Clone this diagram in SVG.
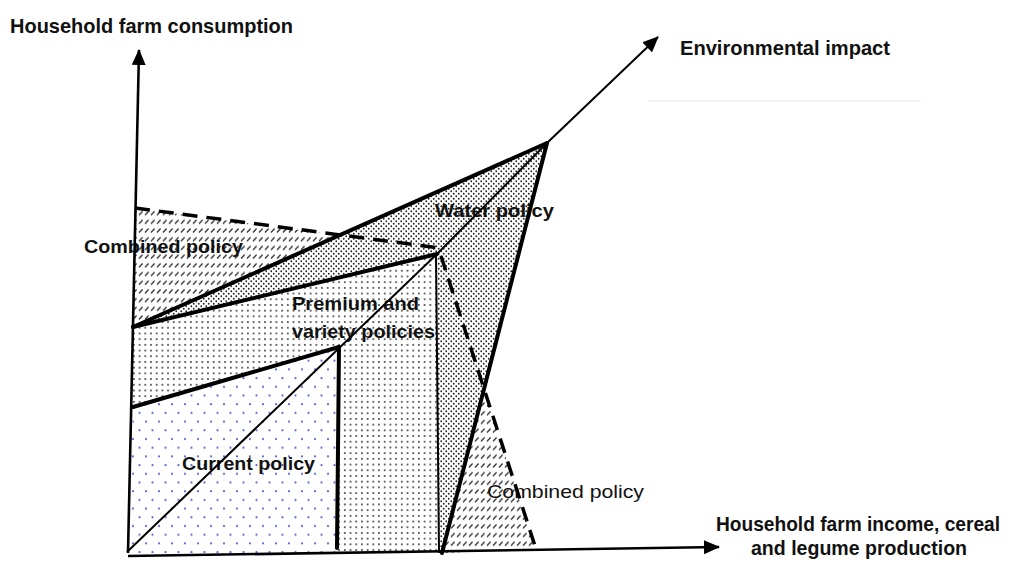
<svg xmlns="http://www.w3.org/2000/svg" width="1014" height="562" viewBox="0 0 1014 562">
<style>
  .lbl { font-family: "Liberation Sans", Arial, sans-serif; fill: #111; }
  .ax { font-size: 21px; font-weight: bold; }
  .rg { font-size: 19px; font-weight: bold; }
  .rgn { font-size: 19px; font-weight: normal; }
  .thick { stroke: #000; stroke-width: 4; fill: none; stroke-linecap: round; }
  .thin { stroke: #000; stroke-width: 2; fill: none; }
  .axis { stroke: #000; stroke-width: 2.6; fill: none; }
  .dash { stroke: #000; stroke-width: 3.5; fill: none; stroke-dasharray: 15 9; }
</style>
<defs>
  <pattern id="bluedots" width="13" height="17.4" patternUnits="userSpaceOnUse">
    <circle cx="3" cy="4" r="1.1" fill="#5466d8"/>
    <circle cx="9.5" cy="12.7" r="1.1" fill="#5466d8"/>
  </pattern>
  <pattern id="finedots" width="5.7" height="5.7" patternUnits="userSpaceOnUse">
    <circle cx="2.8" cy="2.8" r="0.95" fill="#333"/>
  </pattern>
  <pattern id="densedots" width="5" height="5" patternUnits="userSpaceOnUse">
    <circle cx="1.25" cy="1.25" r="0.9" fill="#222"/>
    <circle cx="3.75" cy="3.75" r="0.9" fill="#222"/>
  </pattern>
  <pattern id="hatch" width="6" height="8.7" patternUnits="userSpaceOnUse">
    <line x1="1" y1="6.2" x2="4.6" y2="2.4" stroke="#333" stroke-width="1.4"/>
  </pattern>
  <marker id="arr" viewBox="0 0 16 14" refX="15" refY="7" markerWidth="16" markerHeight="14" markerUnits="userSpaceOnUse" orient="auto">
    <path d="M0,0 L16,7 L0,14 Z" fill="#000"/>
  </marker>
</defs>
<rect width="1014" height="562" fill="#fff"/>
<line x1="648" y1="101" x2="921" y2="101" stroke="#f0f0f0" stroke-width="1.5"/>

<g id="region-current-policy">
  <polygon points="133,407 339,347 337,553 128,553" fill="url(#bluedots)"/>
  <text class="lbl rg" x="182" y="470" textLength="133" lengthAdjust="spacingAndGlyphs">Current policy</text>
</g>
<g id="region-premium-variety">
  <polygon points="133,327 437,254 439,553 337,553 339,347 133,407" fill="url(#finedots)"/>
  <text class="lbl rg" x="292" y="310" textLength="127" lengthAdjust="spacingAndGlyphs">Premium and</text>
  <text class="lbl rg" x="292" y="338" textLength="143" lengthAdjust="spacingAndGlyphs">variety policies</text>
</g>
<g id="region-water-policy">
  <polygon points="133,327 547,143 442,553 439,553 437,254" fill="url(#densedots)"/>
  <text class="lbl rg" x="435" y="217" textLength="119" lengthAdjust="spacingAndGlyphs">Water policy</text>
</g>
<g id="region-combined-upper">
  <polygon points="134,208 338,235 133,327" fill="url(#hatch)"/>
  <text class="lbl rg" x="84" y="253" textLength="159" lengthAdjust="spacingAndGlyphs">Combined policy</text>
</g>
<g id="region-combined-lower">
  <polygon points="484,389 535,549 442,553" fill="url(#hatch)"/>
  <text class="lbl rgn" x="487" y="498" textLength="157" lengthAdjust="spacingAndGlyphs">Combined policy</text>
</g>

<g id="connectors">
  <line class="thick" x1="133" y1="327" x2="547" y2="143"/>
  <line class="thick" x1="133" y1="327" x2="437" y2="254"/>
  <line class="thick" x1="133" y1="407" x2="339" y2="347"/>
  <line class="thick" x1="339" y1="347" x2="337" y2="548"/>
  <line class="thick" x1="547" y1="143" x2="442" y2="553"/>
  <line class="thin" x1="436" y1="254" x2="439" y2="553" stroke-width="1.6"/>
  <polyline class="dash" points="135,208 440,248"/>
  <polyline class="dash" points="441,256 535,546"/>
  <line class="axis" x1="128" y1="553" x2="139" y2="50" marker-end="url(#arr)"/>
  <line class="axis" x1="128" y1="556" x2="719" y2="547" marker-end="url(#arr)"/>
  <polyline class="thin" points="127,552 437,254 547,143 658,37" stroke-width="2.3" marker-end="url(#arr)"/>
</g>

<g id="axis-labels">
  <text class="lbl ax" x="10" y="33" textLength="283" lengthAdjust="spacingAndGlyphs">Household farm consumption</text>
  <text class="lbl ax" x="680" y="55" textLength="210" lengthAdjust="spacingAndGlyphs">Environmental impact</text>
  <text class="lbl ax" x="716" y="531" font-size="18.5" textLength="284" lengthAdjust="spacingAndGlyphs">Household farm income, cereal</text>
  <text class="lbl ax" x="751" y="555" font-size="19" textLength="216" lengthAdjust="spacingAndGlyphs">and legume production</text>
</g>
</svg>
